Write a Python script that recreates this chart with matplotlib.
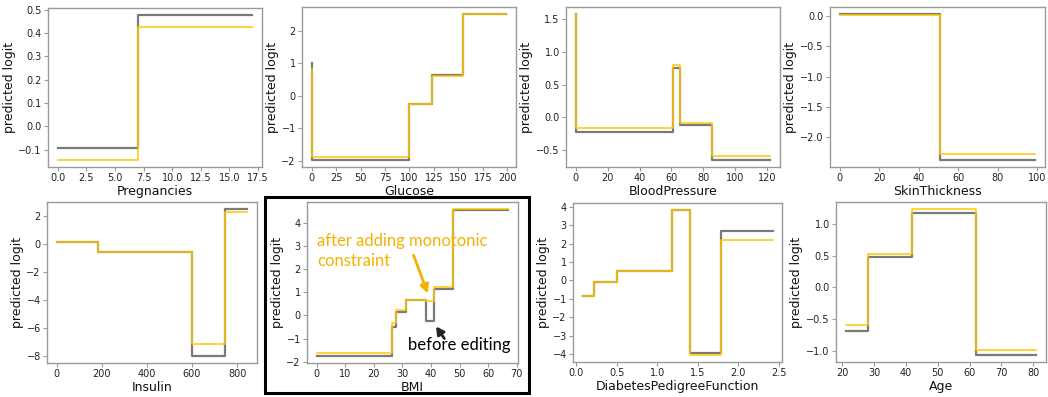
import matplotlib
matplotlib.use("Agg")
import matplotlib.pyplot as plt
from matplotlib.patches import Rectangle

# ---------------- data ----------------
preg_edges = [0, 7, 17]
preg_before = [-0.093, 0.477]
preg_after = [-0.143, 0.428]

glu_edges = [0, 0.4, 99, 123, 155, 199]
glu_before = [1.0, -1.96, -0.25, 0.63, 2.51]
glu_after = [0.82, -1.89, -0.25, 0.60, 2.51]

bp_edges = [0, 0.3, 61, 65.5, 85.5, 122]
bp_before = [1.58, -0.23, 0.75, -0.125, -0.655]
bp_after = [1.58, -0.165, 0.80, -0.09, -0.60]

skin_edges = [0, 51, 99]
skin_before = [0.03, -2.37]
skin_after = [0.01, -2.28]

ins_edges = [0, 185, 600, 745, 846]
ins_before = [0.1, -0.57, -8.0, 2.45]
ins_after = [0.1, -0.57, -7.2, 2.28]

bmi_edges = [0, 26.3, 27.8, 31.4, 38.1, 40.9, 47.8, 67.1]
bmi_before = [-1.74, -0.48, 0.13, 0.65, -0.26, 1.14, 4.55]
bmi_after = [-1.64, -0.33, 0.23, 0.68, 0.64, 1.23, 4.58]

dpf_edges = [0.078, 0.225, 0.505, 1.18, 1.40, 1.78, 2.42]
dpf_before = [-0.87, -0.09, 0.49, 3.82, -3.96, 2.70]
dpf_after = [-0.83, -0.09, 0.49, 3.82, -4.04, 2.21]

age_edges = [21, 28, 42, 62, 81]
age_before = [-0.69, 0.48, 1.17, -1.06]
age_after = [-0.59, 0.53, 1.23, -0.98]

features = ["Pregnancies", "Glucose", "BloodPressure", "SkinThickness",
            "Insulin", "BMI", "DiabetesPedigreeFunction", "Age"]

xticks = {
    "Pregnancies": [0, 2.5, 5, 7.5, 10, 12.5, 15, 17.5],
    "Glucose": [0, 25, 50, 75, 100, 125, 150, 175, 200],
    "BloodPressure": [0, 20, 40, 60, 80, 100, 120],
    "SkinThickness": [0, 20, 40, 60, 80, 100],
    "Insulin": [0, 200, 400, 600, 800],
    "BMI": [0, 10, 20, 30, 40, 50, 60, 70],
    "DiabetesPedigreeFunction": [0.0, 0.5, 1.0, 1.5, 2.0, 2.5],
    "Age": [20, 30, 40, 50, 60, 70, 80],
}
yticks = {
    "Pregnancies": [-0.1, 0.0, 0.1, 0.2, 0.3, 0.4, 0.5],
    "Glucose": [-2, -1, 0, 1, 2],
    "BloodPressure": [-0.5, 0.0, 0.5, 1.0, 1.5],
    "SkinThickness": [-2.0, -1.5, -1.0, -0.5, 0.0],
    "Insulin": [-8, -6, -4, -2, 0, 2],
    "BMI": [-2, -1, 0, 1, 2, 3, 4],
    "DiabetesPedigreeFunction": [-4, -3, -2, -1, 0, 1, 2, 3, 4],
    "Age": [-1.0, -0.5, 0.0, 0.5, 1.0],
}

series = {
    "Pregnancies": (preg_edges, preg_before, preg_after),
    "Glucose": (glu_edges, glu_before, glu_after),
    "BloodPressure": (bp_edges, bp_before, bp_after),
    "SkinThickness": (skin_edges, skin_before, skin_after),
    "Insulin": (ins_edges, ins_before, ins_after),
    "BMI": (bmi_edges, bmi_before, bmi_after),
    "DiabetesPedigreeFunction": (dpf_edges, dpf_before, dpf_after),
    "Age": (age_edges, age_before, age_after),
}

# ---------------- layout (pixels: left, right, top, bottom) ----------------
W, H = 1048, 397
boxes = {
    "Pregnancies": (48, 262, 8, 167),
    "Glucose": (302, 516, 7, 167),
    "BloodPressure": (566, 780, 7, 167),
    "SkinThickness": (830, 1045, 7, 167),
    "Insulin": (47, 257, 202, 363),
    "BMI": (307, 518, 202, 363),
    "DiabetesPedigreeFunction": (573, 782, 203, 362),
    "Age": (836, 1046, 202, 362),
}

GRAY = "#7a7a7a"
GOLD = "#FFC800"
GOLD_TEXT = "#F2B300"
SPINE = "#9a9a9a"

fig = plt.figure(figsize=(W / 100, H / 100), dpi=100)
fig.patch.set_facecolor("white")

axes = {}
for name in features:
    l, r, t, b = boxes[name]
    ax = fig.add_axes([l / W, 1 - b / H, (r - l) / W, (b - t) / H])
    edges, before, after = series[name]
    ax.step(edges, list(before) + [before[-1]], where="post", color=GRAY, lw=1.6)
    ax.step(edges, list(after) + [after[-1]], where="post", color=GOLD, lw=1.1)
    ax.set_xticks(xticks[name])
    ax.set_yticks(yticks[name])
    ax.tick_params(labelsize=7, length=3, width=0.8, color=SPINE, labelcolor="#222222", pad=1.5)
    for s in ax.spines.values():
        s.set_color(SPINE)
        s.set_linewidth(1.0)
    ax.set_xlabel(name, fontsize=9, labelpad=1, color="#111111")
    ax.set_ylabel("predicted logit", fontsize=9, labelpad=2, color="#111111")
    axes[name] = ax

# BMI annotations
ax = axes["BMI"]
ax.text(0.3, 2.78, "after adding monotonic\nconstraint", color=GOLD_TEXT,
        fontsize=12, family=["Lato", "DejaVu Sans"], va="center", ha="left",
        linespacing=1.35)
ax.annotate("", xy=(38.9, 0.95), xytext=(33.9, 2.6),
            arrowprops=dict(arrowstyle="-|>,head_width=0.25,head_length=0.5",
                            color=GOLD_TEXT, lw=2, shrinkA=0, shrinkB=0))
ax.text(49.9, -1.28, "before editing", color="black", fontsize=12,
        family=["Lato", "DejaVu Sans"], va="center", ha="center")
ax.annotate("", xy=(41.8, -0.48), xytext=(44.7, -1.0),
            arrowprops=dict(arrowstyle="-|>,head_width=0.25,head_length=0.45",
                            color="#222222", lw=2, shrinkA=0, shrinkB=0))

# black frame around BMI panel
fig.add_artist(Rectangle((265 / W, 1 - 393 / H), (529 - 265) / W, (393 - 197) / H,
                         transform=fig.transFigure, fill=False, edgecolor="black",
                         lw=2.2))

fig.savefig("out.png", dpi=100, facecolor="white")
